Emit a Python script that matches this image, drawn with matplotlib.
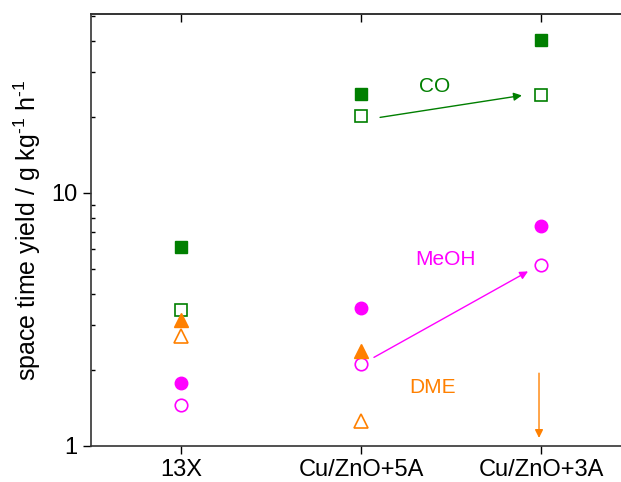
import matplotlib.pyplot as plt
from matplotlib.ticker import LogLocator, NullFormatter, FixedLocator

plt.rcParams['font.family'] = ['Liberation Sans', 'DejaVu Sans']
plt.rcParams['mathtext.fontset'] = 'custom'
plt.rcParams['mathtext.rm'] = 'Liberation Sans'

catalysts = ['13X', 'Cu/ZnO+5A', 'Cu/ZnO+3A']

# filled = first value, open = second value (space time yield, g kg-1 h-1)
co_filled = [6.12, 24.6, 40.4]
co_open = [3.45, 20.1, 24.5]
meoh_filled = [1.78, 3.51, 7.38]
meoh_open = [1.45, 2.11, 5.17]
dme_filled = [3.15, 2.38]
dme_open = [2.72, 1.25]

green = '#007f00'
magenta = '#ff00ff'
orange = '#ff8000'

fig = plt.figure(figsize=(6.21, 4.82), dpi=100)
ax = fig.add_axes([0.1465, 0.0747, 0.8696, 0.8963])

x = list(range(len(catalysts)))
ms = 9
ax.plot(x, co_filled, 's', color=green, ms=ms, mec=green)
ax.plot(x, co_open, 's', mfc='none', mec=green, ms=ms, mew=1.2)
ax.plot(x, meoh_filled, 'o', color=magenta, ms=ms)
ax.plot(x, meoh_open, 'o', mfc='none', mec=magenta, ms=ms, mew=1.2)
ax.plot(x[:2], dme_filled, '^', color=orange, ms=10)
ax.plot(x[:2], dme_open, '^', mfc='none', mec=orange, ms=10, mew=1.2)

arrow = dict(arrowstyle='-|>', lw=1.0, mutation_scale=12, shrinkA=0, shrinkB=0)
ax.annotate('', xy=(1.894, 24.3), xytext=(1.106, 19.9),
            arrowprops=dict(arrow, color=green))
ax.annotate('', xy=(1.928, 4.9), xytext=(1.072, 2.24),
            arrowprops=dict(arrow, color=magenta))
ax.annotate('', xy=(1.989, 1.076), xytext=(1.989, 1.94),
            arrowprops=dict(arrow, color=orange))

ax.text(1.411, 26.3, 'CO', color=green, fontsize=15, ha='center', va='center')
ax.text(1.467, 5.45, 'MeOH', color=magenta, fontsize=15, ha='center', va='center')
ax.text(1.40, 1.70, 'DME', color=orange, fontsize=15, ha='center', va='center')

ax.set_yscale('log')
ax.set_ylim(1, 51)
ax.set_xlim(-0.5, 2.5)
ax.set_xticks(x)
ax.set_xticklabels(catalysts, fontsize=17)
ax.yaxis.set_major_locator(FixedLocator([1, 10]))
ax.set_yticklabels(['1', '10'], fontsize=17)
ax.yaxis.set_minor_locator(LogLocator(base=10, subs=range(2, 10)))
ax.yaxis.set_minor_formatter(NullFormatter())

ax.tick_params(axis='x', which='major', direction='out', length=6, width=1, top=False)
ax.tick_params(axis='y', which='major', direction='out', length=6, width=1)
ax.tick_params(axis='y', which='minor', direction='in', length=3, width=1)

# top ticks pointing inward
sec = ax.secondary_xaxis('top')
sec.set_xticks(x)
sec.set_xticklabels([])
sec.tick_params(direction='in', length=6, width=1)

for s in ax.spines.values():
    s.set_linewidth(1.2)
    s.set_color('#333333')
sec.spines['top'].set_linewidth(1.2)
sec.spines['top'].set_color('#333333')

ax.set_ylabel(r'space time yield / g kg$^{\text{-}1}$ h$^{\text{-}1}$',
              fontsize=18, labelpad=6)

fig.savefig('out.png', dpi=100)
